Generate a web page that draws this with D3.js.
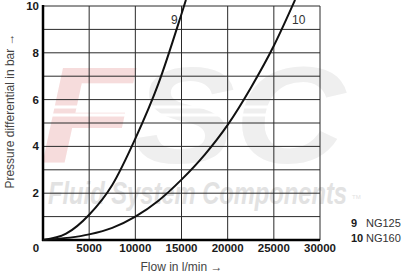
<!DOCTYPE html>
<html>
<head>
<meta charset="utf-8">
<script src="https://cdn.jsdelivr.net/npm/d3@7"></script>
<style>
  body { margin: 0; background: #fff; }
  svg { display: block; font-family: "Liberation Sans", Arial, sans-serif; }
</style>
</head>
<body>
<div id="svgDiv"></div>
<script>
// curve data (flow in l/min, pressure in bar)
var flow9 = [0, 2500, 5000, 7500, 10000, 12500, 15000, 15480];
var press9 = [0, 0.27, 1.08, 2.35, 4.33, 6.68, 9.66, 10.26];
var flow10 = [0, 5000, 7500, 10000, 12500, 15000, 17500, 20000, 22500, 25000, 27300];
var press10 = [0, 0.24, 0.52, 1.0, 1.68, 2.58, 3.64, 4.92, 6.5, 8.3, 10.26];

var xTicks = [0, 5000, 10000, 15000, 20000, 25000, 30000];
var yTicks = [2, 4, 6, 8, 10];
var yGrid = [1, 2, 3, 4, 5, 6, 7, 8, 9, 10];
var legendKeys = ["9", "10"];
var legendNames = ["NG125", "NG160"];

var width = 408, height = 274;
var x = d3.scaleLinear().domain([0, 30000]).range([43, 320]);
var y = d3.scaleLinear().domain([0, 10]).range([240, 6]);

var svg = d3.select("#svgDiv").append("svg")
            .attr("width", width)
            .attr("height", height);

// watermark logo in the background
var wm = svg.append("g").attr("id", "watermarkGroup");
var logo = wm.append("text")
             .attr("x", 40)
             .attr("y", 163)
             .attr("textLength", 305)
             .attr("lengthAdjust", "spacingAndGlyphs")
             .style("font-size", "138px")
             .style("font-weight", "bold")
             .style("font-style", "italic");
logo.append("tspan").attr("fill", "#f6dcdc").text("F");
logo.append("tspan").attr("fill", "#efefef").text("SC");
wm.selectAll("line.stripe")
  .data([107, 115])
  .enter().append("line")
          .attr("class", "stripe")
          .attr("x1", 45).attr("x2", 345)
          .attr("y1", function(d){ return d; })
          .attr("y2", function(d){ return d; })
          .attr("stroke", "#fff")
          .attr("stroke-width", 3);
wm.append("text")
  .attr("x", 48)
  .attr("y", 204)
  .attr("textLength", 299)
  .attr("lengthAdjust", "spacingAndGlyphs")
  .attr("fill", "#e2e2e2")
  .style("font-size", "31px")
  .style("font-weight", "bold")
  .style("font-style", "italic")
  .text("Fluid System Components");
wm.append("text")
  .attr("x", 352)
  .attr("y", 199)
  .attr("fill", "#e2e2e2")
  .style("font-size", "6px")
  .text("TM");

// grid
var grid = svg.append("g").attr("id", "gridGroup");
grid.selectAll("line.v")
    .data(xTicks.slice(1))
    .enter().append("line")
            .attr("class", "v")
            .attr("x1", function(d){ return x(d); })
            .attr("x2", function(d){ return x(d); })
            .attr("y1", y(10)).attr("y2", y(0))
            .attr("stroke", "#2a2a2a")
            .attr("stroke-width", 1);
grid.selectAll("line.h")
    .data(yGrid)
    .enter().append("line")
            .attr("class", "h")
            .attr("x1", x(0)).attr("x2", x(30000))
            .attr("y1", function(d){ return y(d); })
            .attr("y2", function(d){ return y(d); })
            .attr("stroke", "#2a2a2a")
            .attr("stroke-width", 1);

// main axes lines (thicker)
svg.append("line")
   .attr("x1", x(0)).attr("x2", x(0))
   .attr("y1", y(10) - 1).attr("y2", y(0) + 1)
   .attr("stroke", "#000").attr("stroke-width", 2.5);
svg.append("line")
   .attr("x1", x(0) - 1).attr("x2", x(30000))
   .attr("y1", y(0)).attr("y2", y(0))
   .attr("stroke", "#000").attr("stroke-width", 2.5);

// tick labels
svg.selectAll("text.xt")
   .data(xTicks.slice(1))
   .enter().append("text")
           .attr("class", "xt")
           .attr("x", function(d){ return x(d); })
           .attr("y", 252)
           .attr("text-anchor", "middle")
           .attr("fill", "#1a1a1a")
           .style("font-size", "11.5px")
           .style("font-weight", "bold")
           .text(function(d){ return d; });
svg.append("text")
   .attr("x", 36)
   .attr("y", 252)
   .attr("text-anchor", "middle")
   .attr("fill", "#1a1a1a")
   .style("font-size", "11.5px")
   .style("font-weight", "bold")
   .text("0");
svg.selectAll("text.yt")
   .data(yTicks)
   .enter().append("text")
           .attr("class", "yt")
           .attr("x", 39)
           .attr("y", function(d){ return y(d) + 4; })
           .attr("text-anchor", "end")
           .attr("fill", "#1a1a1a")
           .style("font-size", "11.5px")
           .style("font-weight", "bold")
           .text(function(d){ return d; });

// axis titles
svg.append("text")
   .attr("x", (x(0) + x(30000)) / 2)
   .attr("y", 271)
   .attr("text-anchor", "middle")
   .attr("fill", "#444")
   .style("font-size", "12px")
   .text("Flow in l/min \u2192");
svg.append("text")
   .attr("transform", "translate(14," + 111 + ") rotate(-90)")
   .attr("text-anchor", "middle")
   .attr("fill", "#444")
   .style("font-size", "12px")
   .text("Pressure differential in bar \u2192");

// curves
var line = d3.line()
             .x(function(d){ return x(d[0]); })
             .y(function(d){ return y(d[1]); })
             .curve(d3.curveMonotoneX);
var curves = [d3.zip(flow9, press9), d3.zip(flow10, press10)];
svg.selectAll("path.curve")
   .data(curves)
   .enter().append("path")
           .attr("class", "curve")
           .attr("d", line)
           .attr("fill", "none")
           .attr("stroke", "#111")
           .attr("stroke-width", 2);

// curve labels
svg.append("text")
   .attr("x", 171).attr("y", 24)
   .attr("fill", "#333")
   .style("font-size", "12px")
   .text("9");
svg.append("text")
   .attr("x", 292).attr("y", 24)
   .attr("fill", "#333")
   .style("font-size", "12px")
   .text("10");

// legend
var leg = svg.append("g").attr("id", "legendGroup");
leg.selectAll("text.key")
   .data(legendKeys)
   .enter().append("text")
           .attr("class", "key")
           .attr("x", 351)
           .attr("y", function(d, i){ return 227 + i * 15; })
           .attr("fill", "#1a1a1a")
           .style("font-size", "11px")
           .style("font-weight", "bold")
           .text(function(d){ return d; });
leg.selectAll("text.name")
   .data(legendNames)
   .enter().append("text")
           .attr("class", "name")
           .attr("x", 366)
           .attr("y", function(d, i){ return 227 + i * 15; })
           .attr("fill", "#333")
           .style("font-size", "11px")
           .text(function(d){ return d; });
</script>
</body>
</html>
